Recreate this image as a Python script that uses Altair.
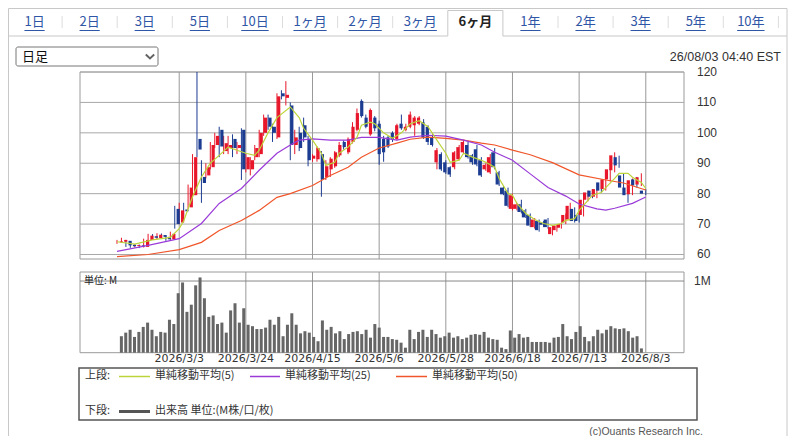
import altair as alt
import pandas as pd

# ---------------- data ----------------
opens = [
    64.0, 64.2, 64.5, 63.2, 62.8, 63.0, 62.5, 64.8, 66.0, 65.4,
    66.4, 65.8, 65.0, 75.0, 70.5, 74.8, 75.5, 79.5, 98.0, 85.5,
    86.0, 88.7, 96.0, 101.0, 94.0, 95.0, 98.0, 95.0, 101.0, 88.0,
    88.0, 92.0, 93.0, 100.0, 105.0, 102.0, 98.5, 113.0, 111.5, 109.0,
    96.0, 100.0, 102.5, 98.0, 91.5, 91.3, 93.0, 85.5, 88.0, 89.0,
    92.6, 97.0, 93.6, 97.0, 101.0, 110.5, 105.0, 99.5, 105.0, 103.0,
    98.0, 98.5, 100.0, 98.0, 103.0, 101.0, 102.0, 102.5, 103.0, 103.5,
    102.0, 98.5, 90.3, 93.0, 90.3, 88.7, 88.7, 91.3, 93.6, 96.0,
    92.6, 94.6, 91.0, 88.0, 87.0, 93.6, 87.0, 82.0, 81.0, 75.0,
    75.0, 76.5, 74.5, 73.0, 69.0, 71.0, 70.5, 71.5, 66.7, 68.0,
    68.8, 70.5, 71.5, 75.0, 73.0, 73.0, 78.0, 81.0, 79.0, 83.7,
    81.5, 84.7, 87.7, 92.0, 86.0, 82.0, 79.8, 84.7, 83.0, 81.0]
highs = [
    64.8, 65.5, 64.8, 63.6, 63.5, 63.3, 65.2, 66.8, 66.7, 67.0,
    66.9, 66.2, 67.5, 76.0, 77.0, 77.0, 83.0, 93.0, 120.0, 91.0,
    90.0, 97.0, 100.0, 102.0, 99.0, 99.0, 99.5, 97.0, 101.5, 93.0,
    92.0, 96.0, 101.0, 106.0, 106.0, 103.0, 113.0, 114.0, 117.0, 110.0,
    101.0, 102.0, 105.0, 99.0, 93.0, 95.5, 94.0, 91.0, 92.0, 94.0,
    97.0, 97.5, 98.5, 103.5, 108.0, 111.0, 106.0, 108.0, 105.5, 104.0,
    99.0, 99.0, 100.5, 103.0, 106.0, 103.0, 107.0, 105.5, 105.5, 104.5,
    102.5, 99.5, 95.0, 93.6, 91.0, 89.0, 94.0, 96.0, 97.5, 97.0,
    93.0, 96.0, 92.0, 90.0, 93.0, 95.0, 87.5, 82.5, 82.0, 80.0,
    77.0, 78.0, 75.0, 73.5, 72.0, 71.5, 71.0, 72.0, 69.5, 70.0,
    70.5, 73.5, 77.0, 75.5, 73.5, 78.5, 81.0, 81.5, 81.5, 84.5,
    85.5, 88.5, 93.6, 92.5, 86.5, 82.5, 85.0, 85.5, 86.7, 81.5]
lows = [
    63.5, 63.8, 62.5, 62.2, 62.3, 62.1, 62.3, 64.5, 65.0, 65.0,
    65.3, 64.5, 64.8, 68.5, 70.0, 72.5, 75.0, 79.0, 92.0, 77.0,
    85.0, 88.0, 95.0, 92.0, 93.0, 93.0, 92.0, 93.0, 84.5, 87.0,
    86.0, 91.0, 92.0, 99.0, 101.0, 97.0, 98.0, 111.0, 109.0, 91.0,
    93.0, 94.0, 97.0, 89.0, 90.5, 90.5, 79.0, 84.5, 85.5, 88.5,
    92.0, 94.5, 93.0, 96.5, 100.5, 105.0, 101.5, 99.0, 100.5, 89.5,
    90.5, 95.0, 97.0, 97.5, 101.0, 100.5, 101.5, 99.0, 102.5, 98.0,
    96.0, 95.5, 88.0, 87.5, 86.5, 85.5, 88.0, 91.0, 93.0, 91.5,
    89.5, 89.0, 85.5, 87.5, 86.5, 88.0, 82.5, 79.5, 75.5, 74.5,
    74.5, 73.5, 72.0, 69.0, 68.5, 67.5, 69.0, 68.5, 66.3, 67.5,
    68.5, 70.0, 71.0, 70.5, 70.5, 72.5, 77.5, 78.5, 78.5, 80.5,
    81.0, 84.0, 87.0, 88.5, 81.5, 77.0, 79.5, 82.0, 82.5, 79.5]
closes = [
    64.3, 64.8, 63.0, 62.7, 63.1, 62.6, 64.8, 66.2, 65.5, 66.5,
    65.8, 65.0, 66.8, 70.0, 74.5, 74.2, 82.0, 92.0, 94.5, 83.5,
    88.7, 96.0, 99.0, 95.5, 96.6, 96.0, 95.0, 96.0, 88.0, 92.0,
    91.0, 95.0, 100.0, 105.0, 102.0, 100.0, 112.0, 112.0, 112.5, 96.0,
    98.5, 95.0, 98.5, 91.0, 92.5, 95.0, 84.7, 89.0, 91.5, 93.6,
    96.0, 95.3, 98.0, 102.0, 106.5, 105.5, 102.0, 107.5, 101.5, 93.0,
    93.6, 95.5, 98.0, 102.5, 101.5, 102.0, 106.0, 105.0, 105.0, 98.5,
    97.0, 96.0, 94.3, 88.0, 87.0, 86.3, 93.6, 95.3, 97.0, 92.0,
    90.3, 89.6, 86.0, 89.5, 92.0, 88.7, 83.0, 79.8, 76.0, 79.5,
    76.5, 74.0, 72.2, 69.5, 71.5, 68.0, 69.8, 69.0, 69.0, 69.5,
    70.0, 73.0, 76.0, 71.0, 71.0, 78.0, 80.4, 79.0, 81.5, 81.0,
    84.7, 88.0, 92.6, 89.3, 82.0, 79.5, 84.4, 82.7, 85.4, 80.0]
volumes = [
    0.23, 0.28, 0.32, 0.22, 0.29, 0.36, 0.42, 0.32, 0.23, 0.29,
    0.28, 0.46, 0.40, 0.83, 0.98, 0.57, 0.67, 0.94, 1.05, 0.76,
    0.50, 0.52, 0.40, 0.42, 0.28, 0.59, 0.69, 0.42, 0.62, 0.39,
    0.37, 0.33, 0.33, 0.35, 0.46, 0.39, 0.50, 0.23, 0.39, 0.55,
    0.39, 0.27, 0.30, 0.28, 0.22, 0.16, 0.45, 0.32, 0.36, 0.27,
    0.30, 0.19, 0.26, 0.29, 0.30, 0.26, 0.32, 0.21, 0.40, 0.35,
    0.22, 0.22, 0.19, 0.18, 0.14, 0.07, 0.32, 0.19, 0.29, 0.32,
    0.22, 0.32, 0.26, 0.21, 0.23, 0.28, 0.21, 0.23, 0.19, 0.21,
    0.25, 0.26, 0.25, 0.29, 0.21, 0.19, 0.18, 0.07, 0.05, 0.31,
    0.21, 0.26, 0.21, 0.22, 0.15, 0.15, 0.15, 0.15, 0.14, 0.21, 0.22,
    0.40, 0.23, 0.19, 0.29, 0.37, 0.22, 0.16, 0.23, 0.32, 0.27,
    0.32, 0.37, 0.34, 0.33, 0.34, 0.30, 0.21, 0.23, 0.06]

ma5_i = [0, 4, 8, 12, 14, 15, 17, 19, 21, 23, 25, 29, 31, 32, 34, 36, 39, 41, 42, 44,
         46, 47, 49, 50, 52, 54, 55, 57, 58, 60, 62, 64, 66, 68, 70, 72, 74, 75, 77, 78,
         80, 82, 83, 85, 86, 88, 89, 90, 92, 94, 96, 98, 100, 101, 103, 104, 106, 107, 109, 110,
         112, 113, 115, 116, 118, 119]
ma5_v = [64.2, 63.4, 64.8, 65.6, 68.5, 71, 79, 85.5, 90, 92.6, 95.3, 93.3, 92.6, 94.3, 100, 105, 108.5, 105, 101.5, 97.6,
         93.3, 89.3, 90.3, 93.3, 95.3, 98.5, 102.5, 103.5, 103, 100, 98.2, 100, 103, 104, 102, 97.6, 93.3, 90.3, 91, 93.3,
         92, 91, 90.3, 88.7, 85, 80, 79.5, 76.8, 73.5, 71.5, 70.2, 69.6, 70.2, 71.2, 71.8, 74.5, 77.8, 79.5, 80.4, 82,
         85, 86.7, 86.7, 85.4, 83.7, 81.7]
ma25_i = [0, 7, 14, 19, 23, 28, 32, 36, 39, 41, 44, 48, 52, 55, 59, 63, 66, 70, 74, 78,
          82, 85, 89, 93, 97, 101, 104, 108, 110, 112, 116, 119]
ma25_v = [61, 63, 65.2, 70.2, 76.8, 81.7, 87.7, 93.3, 96, 97.6, 98, 97.6, 97.6, 98.5, 98.5, 97.6, 98.6, 99.2, 98.9, 97.6,
          96, 93.6, 91, 86.5, 82, 79.2, 76.6, 75, 74.6, 75.2, 76.8, 78.9]
ma50_i = [0, 7, 14, 19, 23, 28, 32, 36, 39, 44, 48, 52, 55, 59, 63, 66, 70, 74, 78, 82,
          85, 89, 93, 98, 104, 110, 114, 119]
ma50_v = [59.3, 60, 61.6, 64, 67.9, 71.2, 74.5, 78.8, 80, 82.7, 86, 88.7, 92, 95, 96.6, 97.9, 98.6, 98.2, 97.6, 96.6,
          96, 94.3, 92.8, 90.2, 86.2, 84.5, 83.5, 81.2]

price_ticks = [60, 70, 80, 90, 100, 110, 120]
date_idx = [14, 29, 44, 59, 74, 89, 104, 119]
date_labels = ["2026/3/3", "2026/3/24", "2026/4/15", "2026/5/6",
               "2026/5/28", "2026/6/18", "2026/7/13", "2026/8/3"]
tab_labels = ["1日", "2日", "3日", "5日", "10日", "1ヶ月", "2ヶ月", "3ヶ月",
              "6ヶ月", "1年", "2年", "3年", "5年", "10年"]
selected_tab = "6ヶ月"

# ---------------- styling ----------------
RED = "#e8162a"
NAVY = "#1c3c92"
C_MA5 = "#bcd43a"
C_MA25 = "#9a3bd8"
C_MA50 = "#f0562a"
GRID = "#a8a8a8"
CJK = "Noto Sans CJK JP"
TABBLUE = "#2f56a6"

XS = alt.Scale(domain=[-8.325, 127.6], range=[72, 676], nice=False, zero=False)
PS = alt.Scale(domain=[58.52, 120], range=[251, 64], nice=False, zero=False)
VS = alt.Scale(domain=[0, 1.126], range=[344.7, 264], nice=False, zero=True)
TS = alt.Scale(domain=[0, 14], range=[-1, 770.4], nice=False, zero=False)


def X(f, s=XS):
    return alt.X(f, type="quantitative", scale=s, axis=None)


def one():
    return pd.DataFrame({"a": [0]})


def txt(s, x, y, **kw):
    return alt.Chart(pd.DataFrame({"t": [s]})).mark_text(**kw).encode(
        x=alt.value(x), y=alt.value(y), text="t:N")


def hline(x1, x2, y, color, w=1.0):
    return alt.Chart(one()).mark_rule(color=color, strokeWidth=w).encode(
        x=alt.value(x1), x2=alt.value(x2), y=alt.value(y))


def vline(x, y1, y2, color, w=1.0):
    return alt.Chart(one()).mark_rule(color=color, strokeWidth=w).encode(
        x=alt.value(x), y=alt.value(y1), y2=alt.value(y2))


def box(x1, x2, y1, y2, stroke, w=1.0, fill="white", **kw):
    return alt.Chart(one()).mark_rect(fill=fill, stroke=stroke, strokeWidth=w, **kw).encode(
        x=alt.value(x1), x2=alt.value(x2), y=alt.value(y1), y2=alt.value(y2))


layers = []

# ---- outer frame and tabs ----
layers += [
    vline(0.5, 0.5, 428, "#c8c8c8"),
    vline(779, 0.5, 428, "#c8c8c8"),
    hline(0.5, 779, 0.5, "#c8c8c8"),
    hline(0.5, 439.8, 28, "#c8c8c8"),
    hline(494.9, 779, 28, "#c8c8c8"),
    vline(439.8, 2.5, 28, "#c8c8c8"),
    vline(494.9, 2.5, 28, "#c8c8c8"),
    hline(439.8, 494.9, 2.5, "#c8c8c8"),
]

tdf = pd.DataFrame({"k": list(range(len(tab_labels))), "label": tab_labels})
tdf["c"] = tdf["k"] + 0.5
tdf["hw"] = [sum(7.2 if ch.isdigit() else 13.0 for ch in s) / 2 / 55.1 for s in tab_labels]
tdf["u0"] = tdf["c"] - tdf["hw"]
tdf["u1"] = tdf["c"] + tdf["hw"]
tdf["sel"] = tdf["label"] == selected_tab
normal = tdf[~tdf["sel"]]
sel = tdf[tdf["sel"]]

sep = pd.DataFrame({"b": [b for b in range(1, 15) if b not in (8, 9)]})
layers.append(alt.Chart(sep).mark_rule(color="#dcdcdc").encode(
    x=X("b", TS), y=alt.value(8), y2=alt.value(20)))
layers.append(alt.Chart(normal).mark_text(font=CJK, fontSize=13, color=TABBLUE, baseline="middle").encode(
    x=X("c", TS), y=alt.value(14), text="label:N"))
layers.append(alt.Chart(normal).mark_rule(color=TABBLUE, strokeWidth=1).encode(
    x=X("u0", TS), x2="u1:Q", y=alt.value(22.5)))
layers.append(alt.Chart(sel).mark_text(font=CJK, fontSize=13, fontWeight="bold", color="#222222",
                                       baseline="middle").encode(
    x=X("c", TS), y=alt.value(14), text="label:N"))

# ---- dropdown & timestamp ----
layers += [
    box(8, 150, 39, 58, "#767676", 1, cornerRadius=2),
    txt("日足", 14, 48.5, font=CJK, fontSize=13, color="#111111", align="left", baseline="middle"),
    alt.Chart(one()).mark_point(shape="M-1,-0.45L0,0.45L1,-0.45", filled=False, size=70,
                                strokeWidth=2, color="#222222").encode(x=alt.value(142), y=alt.value(48.5)),
    txt("26/08/03 04:40 EST", 773, 49, font="Liberation Sans", fontSize=12.5, color="#333333",
        align="right", baseline="middle"),
]

# ---- plot frames ----
layers += [
    box(72, 676, 64, 251, "#9a9a9a", 1),
    box(72, 676, 264, 344.7, "#9a9a9a", 1),
]

# ---- gridlines ----
pt = pd.DataFrame({"v": price_ticks})
dt = pd.DataFrame({"i": date_idx, "lab": date_labels})
layers.append(alt.Chart(pt).mark_rule(color=GRID).encode(
    y=alt.Y("v:Q", scale=PS, axis=None), x=alt.value(72), x2=alt.value(676)))
layers.append(alt.Chart(dt).mark_rule(color="#999999").encode(
    x=X("i"), y=alt.value(64), y2=alt.value(251)))
layers.append(alt.Chart(dt).mark_rule(color="#999999").encode(
    x=X("i"), y=alt.value(264), y2=alt.value(344.7)))
layers.append(alt.Chart(pd.DataFrame({"v": [1.0]})).mark_rule(color="#888888").encode(
    y=alt.Y("v:Q", scale=VS, axis=None), x=alt.value(72), x2=alt.value(676)))

# ---- axis labels ----
layers.append(alt.Chart(pt).mark_text(font="Liberation Sans", fontSize=12, color="#333333",
                                      align="left", baseline="middle").encode(
    y=alt.Y("v:Q", scale=PS, axis=None), x=alt.value(689), text="v:N"))
layers.append(alt.Chart(dt).mark_text(font="DejaVu Sans", fontSize=11, color="#333333",
                                      align="center", baseline="middle").encode(
    x=X("i"), y=alt.value(351), text="lab:N"))
layers.append(alt.Chart(pd.DataFrame({"v": [1.0], "t": ["1M"]})).mark_text(
    font="Liberation Sans", fontSize=12, color="#333333", align="left", baseline="middle").encode(
    y=alt.Y("v:Q", scale=VS, axis=None), x=alt.value(686), text="t:N"))
layers.append(txt("単位: M", 76, 273, font=CJK, fontSize=10, color="#222222", align="left", baseline="middle"))

# ---- candles ----
cdf = pd.DataFrame({"i": list(range(len(opens))), "o": opens, "h": highs, "l": lows, "c": closes})
cdf["dir"] = ["up" if c >= o else "down" for o, c in zip(opens, closes)]
ccol = alt.Color("dir:N", scale=alt.Scale(domain=["up", "down"], range=[RED, NAVY]), legend=None)
layers.append(alt.Chart(cdf).mark_rule(strokeWidth=1).encode(
    x=X("i"), y=alt.Y("l:Q", scale=PS, axis=None), y2="h:Q", color=ccol))
layers.append(alt.Chart(cdf).mark_bar(size=3.2).encode(
    x=X("i"), y=alt.Y("o:Q", scale=PS, axis=None), y2="c:Q", color=ccol))

# ---- moving averages ----
for ii, vv, col in [(ma50_i, ma50_v, C_MA50), (ma25_i, ma25_v, C_MA25), (ma5_i, ma5_v, C_MA5)]:
    layers.append(alt.Chart(pd.DataFrame({"i": ii, "v": vv})).mark_line(color=col, strokeWidth=1.2).encode(
        x=X("i"), y=alt.Y("v:Q", scale=PS, axis=None)))

# ---- volume ----
vdf = pd.DataFrame({"i": list(range(len(volumes))), "v": volumes})
layers.append(alt.Chart(vdf).mark_bar(size=3, color="#666666").encode(
    x=X("i"), y=alt.Y("v:Q", scale=VS, axis=None)))

# ---- legend box ----
layers += [
    box(71, 689, 360, 412, "#555555", 1.5),
    txt("上段:", 77, 368, font=CJK, fontSize=11, color="#333333", align="left", baseline="middle"),
    hline(111, 142, 368.5, C_MA5, 1.5),
    txt("単純移動平均(5)", 147, 368, font=CJK, fontSize=11, color="#333333", align="left", baseline="middle"),
    hline(242, 272, 368.5, C_MA25, 1.5),
    txt("単純移動平均(25)", 277, 368, font=CJK, fontSize=11, color="#333333", align="left", baseline="middle"),
    hline(388, 419, 368.5, C_MA50, 1.5),
    txt("単純移動平均(50)", 424, 368, font=CJK, fontSize=11, color="#333333", align="left", baseline="middle"),
    txt("下段:", 77, 403, font=CJK, fontSize=11, color="#333333", align="left", baseline="middle"),
    hline(111, 142, 403.5, "#555555", 3),
    txt("出来高 単位:(M株/口/枚)", 147, 403, font=CJK, fontSize=11, color="#333333", align="left",
        baseline="middle"),
    txt("(c)Ouants Research Inc.", 695, 424, font="Liberation Sans", fontSize=10.5, color="#555555",
        align="right", baseline="middle"),
]

chart = alt.layer(*layers).resolve_scale(
    x="independent", y="independent", color="independent"
).properties(
    width=783, height=428, padding=0, autosize="none", background="white"
).configure_view(stroke=None)

chart.save("out.html", embed_options={"renderer": "svg", "actions": False})
